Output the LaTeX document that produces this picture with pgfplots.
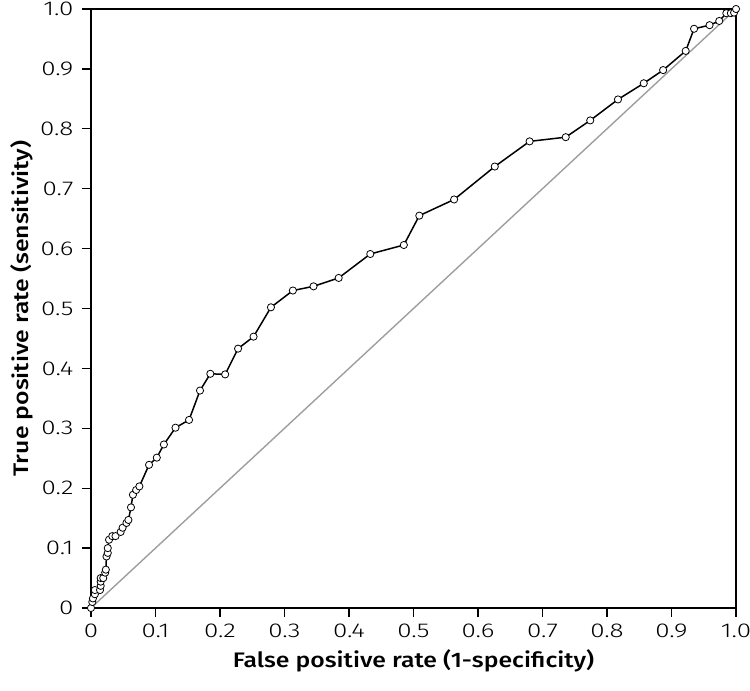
\documentclass[border=0pt]{standalone}
\usepackage{pgfplots}
\pgfplotsset{compat=1.18}
\usepackage{fontspec}
\setmainfont{Fira Sans}
\newfontfamily\lightfont{Fira Sans Light}[FakeStretch=1.3]
\newfontfamily\medfont{Fira Sans Medium}[FakeStretch=1.18]
\pgfplotstableread{
x y
0 0
0.002 0.010
0.003 0.016
0.006 0.023
0.006 0.030
0.014 0.030
0.015 0.037
0.015 0.044
0.015 0.050
0.019 0.050
0.022 0.059
0.023 0.064
0.024 0.086
0.026 0.092
0.026 0.100
0.028 0.114
0.033 0.120
0.038 0.120
0.046 0.127
0.049 0.134
0.055 0.142
0.058 0.147
0.062 0.168
0.065 0.189
0.070 0.197
0.075 0.203
0.090 0.239
0.102 0.251
0.113 0.273
0.131 0.301
0.152 0.314
0.169 0.363
0.185 0.391
0.208 0.390
0.228 0.433
0.252 0.453
0.279 0.502
0.313 0.530
0.345 0.537
0.384 0.551
0.433 0.591
0.485 0.606
0.509 0.655
0.563 0.682
0.626 0.737
0.680 0.779
0.736 0.786
0.774 0.814
0.817 0.849
0.857 0.876
0.887 0.898
0.922 0.930
0.935 0.967
0.959 0.973
0.974 0.980
0.985 0.993
0.992 0.993
0.997 0.994
1 1
}\roc
\begin{document}
\begin{tikzpicture}
\begin{axis}[
  name=ax,
  scale only axis,
  width=645pt, height=599pt,
  xmin=0, xmax=1, ymin=0, ymax=1,
  axis line style={line width=1.3pt},
  tick style={line width=1.3pt, black},
  tick align=outside,
  major tick length=9pt,
  xtick pos=left, ytick pos=left,
  xtick={0,0.1,0.2,0.3,0.4,0.5,0.6,0.7,0.8,0.9,1},
  ytick={0,0.1,0.2,0.3,0.4,0.5,0.6,0.7,0.8,0.9,1},
  xticklabels={0,0.1,0.2,0.3,0.4,0.5,0.6,0.7,0.8,0.9,1.0},
  yticklabels={0,0.1,0.2,0.3,0.4,0.5,0.6,0.7,0.8,0.9,1.0},
  ticklabel style={font=\lightfont\fontsize{20}{22}\selectfont},
  xticklabel style={yshift=-3pt},
  yticklabel style={xshift=-5pt},
  xlabel={False positive rate (1-specificity)},
  ylabel={True positive rate (sensitivity)},
  label style={font=\medfont\fontsize{21}{24}\selectfont},
  xlabel style={yshift=-5pt},
  ylabel style={yshift=0pt},
  clip=false,
]
\addplot[color=black!38, line width=1.4pt, no marks] coordinates {(0,0) (1,1)};
\addplot[black, line width=1.5pt, mark=*, mark size=3.6pt,
  mark options={fill=white, draw=black, line width=0.8pt}] table[x=x,y=y] {\roc};
\end{axis}
\pgfresetboundingbox
\path[use as bounding box] ([xshift=-91pt,yshift=-83pt]ax.south west) rectangle ([xshift=14pt,yshift=9pt]ax.north east);
\end{tikzpicture}
\end{document}
